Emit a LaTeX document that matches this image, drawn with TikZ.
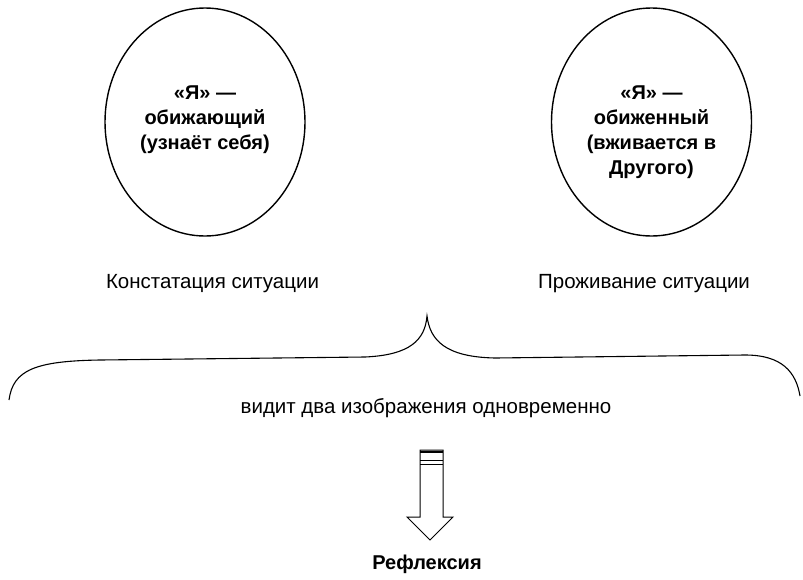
\documentclass[tikz,border=0pt]{standalone}
\usepackage{fontspec}
\setmainfont{Liberation Sans}
\usetikzlibrary{shapes.geometric}
\begin{document}
\begin{tikzpicture}[x=1pt,y=-1pt,
	person/.style={draw,line width=1.4pt,ellipse,minimum width=200pt,minimum height=228pt},
	persontext/.style={anchor=north,inner sep=0pt,align=center,
		font=\bfseries\fontsize{20}{25}\selectfont},
	caption/.style={font=\fontsize{20.5}{24}\selectfont}]
	\useasboundingbox (0,0) rectangle (803,579);
	\node[person] (offender) at (205,122) {};
	\node[person] (offended) at (651.5,122) {};
	\node[persontext] (offendertext) at (205,86) {«Я» —\\обижающий\\(узнаёт себя)};
	\node[persontext] (offendedtext) at (651.5,86) {«Я» —\\обиженный\\(вживается в\\Другого)};
	\node[caption] (state) at (212.5,284) {Констатация ситуации};
	\node[caption] (live) at (644,284) {Проживание ситуации};
	\node[caption] (sees) at (426,408) {видит два изображения одновременно};
	\node[caption,font=\bfseries\fontsize{20}{24}\selectfont] (refl) at (427,564) {Рефлексия};
	% brace
	\coordinate (bl) at (9,400);
	\coordinate (tip) at (427,316);
	\coordinate (br) at (800,396);
	\draw[line width=1.1pt] (bl) .. controls (13,370) and (35,361) .. (100,360)
		-- (365,357) .. controls (410,355) and (425,340) .. (tip)
		.. controls (430,340) and (445,357) .. (495,358)
		-- (745,355) .. controls (782,355) and (796,372) .. (br);
	% arrow
	\draw[line width=1pt] (420,450) -- (443,450) -- (443,517) -- (453,517) -- (430,540)
		-- (407,517) -- (420,517) -- cycle;
	\draw[line width=1.8pt] (420,452) -- (443,452);
	\draw[line width=1pt] (420,460) -- (443,460);
	\draw[line width=1pt] (420,464) -- (443,464);
\end{tikzpicture}
\end{document}
